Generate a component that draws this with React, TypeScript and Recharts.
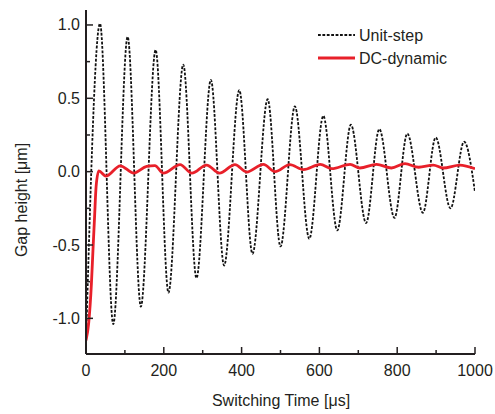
import { LineChart, Line, XAxis, YAxis, Label } from 'recharts'

// unit-step response, read at peaks and troughs
const stepTime = [0, 36, 70, 107, 141, 179, 212, 250, 284, 321, 355, 394, 428, 467, 500, 537, 574, 610, 646, 681, 720, 754, 793, 826, 866, 899, 937, 972, 1000]
const stepGap = [-1.17, 1.01, -1.04, 0.92, -0.92, 0.83, -0.825, 0.73, -0.726, 0.626, -0.64, 0.556, -0.56, 0.494, -0.51, 0.445, -0.458, 0.38, -0.4, 0.32, -0.35, 0.29, -0.315, 0.26, -0.28, 0.233, -0.25, 0.204, -0.14]

// DC-dynamic response
const dcTime = [0, 7, 14, 18, 22, 26, 33, 51, 88, 123, 156, 177, 199, 242, 272, 310, 343, 383, 413, 456, 486, 524, 559, 602, 632, 679, 704, 747, 785, 820, 855, 893, 918, 961, 1000]
const dcGap = [-1.15, -1.03, -0.76, -0.53, -0.31, -0.1, 0.005, -0.03, 0.04, -0.01, 0.036, 0.041, -0.01, 0.048, -0.01, 0.045, -0.01, 0.048, -0.003, 0.05, 0, 0.048, 0.014, 0.05, 0.02, 0.05, 0.025, 0.05, 0.025, 0.055, 0.03, 0.045, 0.025, 0.045, 0.02]

const xTicks = [0, 100, 200, 300, 400, 500, 600, 700, 800, 900, 1000]
const yTicks = [-1, -0.75, -0.5, -0.25, 0, 0.25, 0.5, 0.75, 1]

const stepData = stepTime.map((t, i) => ({ t, gap: stepGap[i] }))
const dcData = dcTime.map((t, i) => ({ t, gap: dcGap[i] }))

const FONT = '"Liberation Sans", Arial, sans-serif'
const INK = '#231f20'
const RED = '#e8202a'
const TM = 10

const isMajorX = (v: number) => v % 200 === 0
const isMajorY = (v: number) => Math.abs(v * 2 - Math.round(v * 2)) < 1e-6

function BottomTick({ x, y, payload }: any) {
  const ay = y - TM
  const major = isMajorX(payload.value)
  return (
    <g>
      <line x1={x} x2={x} y1={ay} y2={ay - (major ? 7 : 4)} stroke={INK} strokeWidth={1.5} />
      {major && (
        <text x={x} y={ay + 22} textAnchor="middle" fontSize={16} fontFamily={FONT} fill={INK}>
          {payload.value}
        </text>
      )}
    </g>
  )
}

function TopTick({ x, y, payload }: any) {
  const ay = y + TM
  const major = isMajorX(payload.value)
  return <line x1={x} x2={x} y1={ay} y2={ay + (major ? 7 : 4)} stroke={INK} strokeWidth={1.5} />
}

function LeftTick({ x, y, payload }: any) {
  const ax = x + TM
  const major = isMajorY(payload.value)
  return (
    <g>
      <line x1={ax} x2={ax + (major ? 7 : 4)} y1={y} y2={y} stroke={INK} strokeWidth={1.5} />
      {major && (
        <text x={ax - 6} y={y + 5.5} textAnchor="end" fontSize={16} fontFamily={FONT} fill={INK}>
          {payload.value.toFixed(1)}
        </text>
      )}
    </g>
  )
}

function RightTick({ x, y, payload }: any) {
  const ax = x - TM
  const major = isMajorY(payload.value)
  return <line x1={ax} x2={ax - (major ? 7 : 4)} y1={y} y2={y} stroke={INK} strokeWidth={1.5} />
}

function LegendBox() {
  return (
    <svg width={150} height={45} style={{ position: 'absolute', left: 316, top: 25 }}>
      <line x1={2} x2={39} y1={10} y2={10} stroke="#111" strokeWidth={1.8} strokeDasharray="2.8 1.6" />
      <text x={43} y={15.5} fontSize={16} fontFamily={FONT} fill={INK}>Unit-step</text>
      <line x1={2} x2={39} y1={33} y2={33} stroke={RED} strokeWidth={2.8} />
      <text x={43} y={38.5} fontSize={16} fontFamily={FONT} fill={INK}>DC-dynamic</text>
    </svg>
  )
}

export default function App() {
  return (
    <div style={{ position: 'absolute', left: 0, top: 0, width: 495, height: 414 }}>
      <LineChart width={495} height={414} margin={{ top: 10, right: 20, bottom: 0, left: 0 }}>
        <XAxis
          xAxisId="bottom"
          type="number"
          dataKey="t"
          domain={[0, 1000]}
          ticks={xTicks}
          height={60}
          tickSize={0}
          tickLine={false}
          tickMargin={TM}
          tick={<BottomTick />}
          axisLine={{ stroke: INK, strokeWidth: 2 }}
          allowDataOverflow
        >
          <Label
            content={() => (
              <text x={281} y={406} textAnchor="middle" fontSize={16} fontFamily={FONT} fill={INK}>
                Switching Time [μs]
              </text>
            )}
          />
        </XAxis>
        <XAxis
          xAxisId="top"
          orientation="top"
          type="number"
          dataKey="t"
          domain={[0, 1000]}
          ticks={xTicks}
          height={0}
          tickSize={0}
          tickLine={false}
          tickMargin={TM}
          tick={<TopTick />}
          axisLine={{ stroke: INK, strokeWidth: 2 }}
          allowDataOverflow
        />
        <YAxis
          yAxisId="left"
          type="number"
          domain={[-1.243, 1.102]}
          ticks={yTicks}
          width={86}
          tickSize={0}
          tickLine={false}
          tickMargin={TM}
          tick={<LeftTick />}
          axisLine={{ stroke: INK, strokeWidth: 2 }}
          allowDataOverflow
        >
          <Label
            content={() => (
              <text
                x={21}
                y={200}
                transform="rotate(-90, 21, 200)"
                textAnchor="middle"
                dominantBaseline="central"
                fontSize={16}
                fontFamily={FONT}
                fill={INK}
              >
                Gap height [μm]
              </text>
            )}
          />
        </YAxis>
        <YAxis
          yAxisId="right"
          orientation="right"
          type="number"
          domain={[-1.243, 1.102]}
          ticks={yTicks}
          width={0}
          tickSize={0}
          tickLine={false}
          tickMargin={TM}
          tick={<RightTick />}
          axisLine={{ stroke: INK, strokeWidth: 2 }}
          allowDataOverflow
        />
        <Line
          xAxisId="bottom"
          yAxisId="left"
          data={stepData}
          dataKey="gap"
          name="Unit-step"
          type="monotone"
          stroke="#111"
          strokeWidth={1.8}
          strokeDasharray="2.8 1.6"
          dot={false}
          activeDot={false}
          isAnimationActive={false}
        />
        <Line
          xAxisId="bottom"
          yAxisId="left"
          data={dcData}
          dataKey="gap"
          name="DC-dynamic"
          type="monotone"
          stroke={RED}
          strokeWidth={2.8}
          dot={false}
          activeDot={false}
          isAnimationActive={false}
        />
      </LineChart>
      <LegendBox />
    </div>
  )
}
